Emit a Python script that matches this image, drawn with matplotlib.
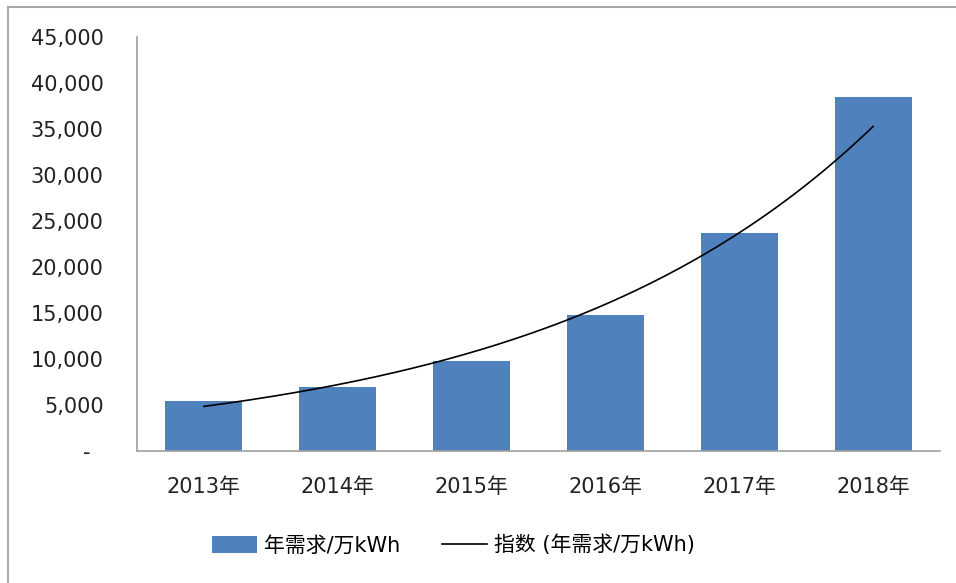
import numpy as np
import matplotlib.pyplot as plt
from matplotlib.lines import Line2D
from matplotlib.ticker import FuncFormatter

plt.rcParams['font.family'] = ['DejaVu Sans', 'Noto Sans CJK SC']

years = ["2013年", "2014年", "2015年", "2016年", "2017年", "2018年"]
demand = [5400, 7000, 9800, 14800, 23700, 38500]
label_bar = "年需求/万kWh"
label_trend = "指数 (年需求/万kWh)"

x = np.arange(len(years))

# exponential trendline, as Excel fits it (least squares on ln y)
b, a = np.polyfit(x, np.log(demand), 1)
xs = np.linspace(x[0], x[-1], 200)
trend = np.exp(a) * np.exp(b * xs)

fig = plt.figure(figsize=(9.56, 5.83), dpi=100)
ax = fig.add_axes([137/956, 1 - 451/583, (940 - 137)/956, (451 - 37)/583])

bars = ax.bar(x, demand, width=0.575, color="#4F81BD", zorder=2)
line, = ax.plot(xs, trend, color="black", lw=1.2, zorder=3)

ax.set_xlim(-0.5, len(years) - 0.5)
ax.set_ylim(0, 45000)
ax.set_yticks(range(0, 45001, 5000))
ax.yaxis.set_major_formatter(FuncFormatter(lambda v, p: "-  " if v == 0 else f"{int(v):,}"))
ax.set_xticks(x)
ax.set_xticklabels(years)
ax.tick_params(axis="y", length=0, pad=24, labelsize=15, colors="#222222")
ax.tick_params(axis="x", length=0, pad=19, labelsize=15, colors="#222222")

for s in ["top", "right"]:
    ax.spines[s].set_visible(False)
for s in ["left", "bottom"]:
    ax.spines[s].set_color("#a0a0a0")
    ax.spines[s].set_linewidth(1.2)

fig.legend([bars, line], [label_bar, label_trend], loc="center",
           bbox_to_anchor=(0.474, 0.065), ncol=2, frameon=False,
           fontsize=15, handlelength=2.2, handleheight=0.85, columnspacing=2.0,
           handletextpad=0.3)

# outer chart border (left and top edges visible)
fig.add_artist(Line2D([8/956, 8/956], [0, 1 - 7/583], color="#a8a8a8", lw=1.5,
                      transform=fig.transFigure))
fig.add_artist(Line2D([8/956, 1], [1 - 7/583, 1 - 7/583], color="#a8a8a8", lw=1.5,
                      transform=fig.transFigure))

fig.savefig("out.png", dpi=100)
